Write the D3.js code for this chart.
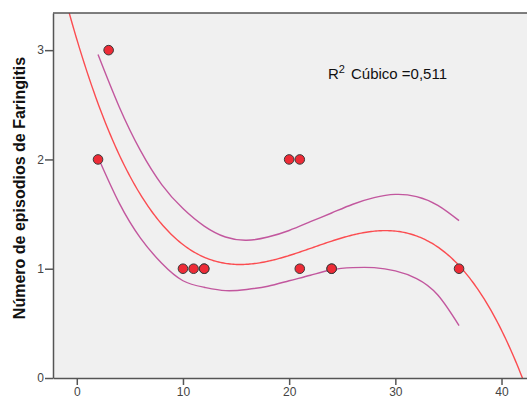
<!DOCTYPE html>
<html>
<head>
<meta charset="utf-8">
<script src="https://cdn.jsdelivr.net/npm/d3@7"></script>
<style>
  body { margin: 0; background: #fff; }
  text { font-family: "Liberation Sans", Arial, sans-serif; }
</style>
</head>
<body>
<div id="chart"></div>
<script>
// observed cases (some are stacked on the same spot)
var xVals = [2, 3, 10, 11, 12, 12, 20, 21, 21, 24, 24, 36];
var yVals = [2, 3, 1, 1, 1, 1, 2, 2, 1, 1, 1, 1];

// cubic fit c0 + c1*x + c2*x^2 + c3*x^3
var cubicCoef = [3.1002, -0.32534, 0.016167, -0.00024245];

// 95% confidence interval of the mean, read at these x
var bandX = [2, 4, 6, 8, 10, 12, 14, 16, 18, 20, 22, 24, 26, 28, 30, 32, 34, 36];
var bandUpper = [2.96, 2.48, 2.08, 1.77, 1.55, 1.39, 1.29, 1.26, 1.29, 1.35, 1.43, 1.51, 1.59, 1.65, 1.68, 1.66, 1.58, 1.44];
var bandLower = [2.02, 1.60, 1.28, 1.05, 0.89, 0.83, 0.80, 0.81, 0.84, 0.89, 0.94, 0.99, 1.01, 1.01, 0.98, 0.91, 0.76, 0.48];

var xTicks = [0, 10, 20, 30, 40];
var yTicks = [0, 1, 2, 3];
var r2Label = "0,511";

var width = 527, height = 402;
var mLeft = 53, mTop = 13, mBottom = 378, mRight = 545;

var x = d3.scaleLinear().domain([-2.24, 42.4 + (mRight - 527) / 10.62]).range([mLeft, mRight]);
var y = d3.scaleLinear().domain([0, 3.34]).range([mBottom, mTop]);

function fit(v) {
  return d3.sum(cubicCoef, function(c, i) { return c * Math.pow(v, i); });
}

var svg = d3.select("#chart").append("svg").attr("width", width).attr("height", height);

svg.append("rect").attr("x", mLeft).attr("y", mTop).attr("width", mRight - mLeft).attr("height", mBottom - mTop)
  .attr("fill", "#f0f0f0");

svg.append("clipPath").attr("id", "clip").append("rect")
  .attr("x", mLeft).attr("y", mTop).attr("width", mRight - mLeft).attr("height", mBottom - mTop);

var smooth = d3.line().curve(d3.curveNatural)
  .x(function(d) { return x(d[0]); }).y(function(d) { return y(d[1]); });
var plain = d3.line().x(function(d) { return x(d[0]); }).y(function(d) { return y(d[1]); });

var xd = x.domain();
var fitPts = d3.range(0, 301).map(function(i) { return xd[0] + (xd[1] - xd[0]) * i / 300; });

var g = svg.append("g").attr("clip-path", "url(#clip)");
[bandUpper, bandLower].forEach(function(b) {
  g.append("path").datum(bandX.map(function(v, i) { return [v, b[i]]; }))
    .attr("d", smooth).attr("fill", "none").attr("stroke", "#c2579e").attr("stroke-width", 1.4);
});
g.append("path").datum(fitPts.map(function(v) { return [v, fit(v)]; }))
  .attr("d", plain).attr("fill", "none").attr("stroke", "#fb4c50").attr("stroke-width", 1.4);

g.selectAll("circle").data(xVals).enter().append("circle")
  .attr("cx", function(d) { return x(d); })
  .attr("cy", function(d, i) { return y(yVals[i]); })
  .attr("r", 4.8)
  .attr("fill", "#ee2b36").attr("stroke", "#3a3a3a").attr("stroke-width", 1);

// axes
var xAxis = svg.append("g").attr("transform", "translate(0," + mBottom + ")")
  .call(d3.axisBottom(x).tickValues(xTicks).tickSize(7).tickSizeOuter(0));
var yAxis = svg.append("g").attr("transform", "translate(" + mLeft + ",0)")
  .call(d3.axisLeft(y).tickValues(yTicks).tickFormat(d3.format("d")).tickSize(8).tickSizeOuter(0));
[xAxis, yAxis].forEach(function(a) {
  a.select(".domain").attr("stroke", "#555").attr("stroke-width", 1.5);
  a.selectAll(".tick line").attr("stroke", "#555").attr("stroke-width", 1.5);
  a.selectAll(".tick text").attr("fill", "#444").style("font-size", "12px")
    .style("font-family", "Liberation Sans, Arial, sans-serif");
});
xAxis.selectAll(".tick text").attr("y", 9);
yAxis.selectAll(".tick text").attr("x", -9);
svg.append("line").attr("x1", mLeft).attr("x2", mRight).attr("y1", mTop).attr("y2", mTop)
  .attr("stroke", "#555").attr("stroke-width", 1.5);

svg.append("text").attr("transform", "translate(25,188) rotate(-90)")
  .attr("text-anchor", "middle").style("font-size", "16px").style("font-weight", "bold")
  .attr("fill", "#111").text("Número de episodios de Faringitis");

var ann = svg.append("text").attr("x", 328).attr("y", 79).style("font-size", "15px").attr("fill", "#111");
ann.append("tspan").text("R");
ann.append("tspan").attr("dy", -6).style("font-size", "11px").text("2");
ann.append("tspan").attr("dy", 6).attr("dx", 6).text("Cúbico =" + r2Label);
</script>
</body>
</html>
